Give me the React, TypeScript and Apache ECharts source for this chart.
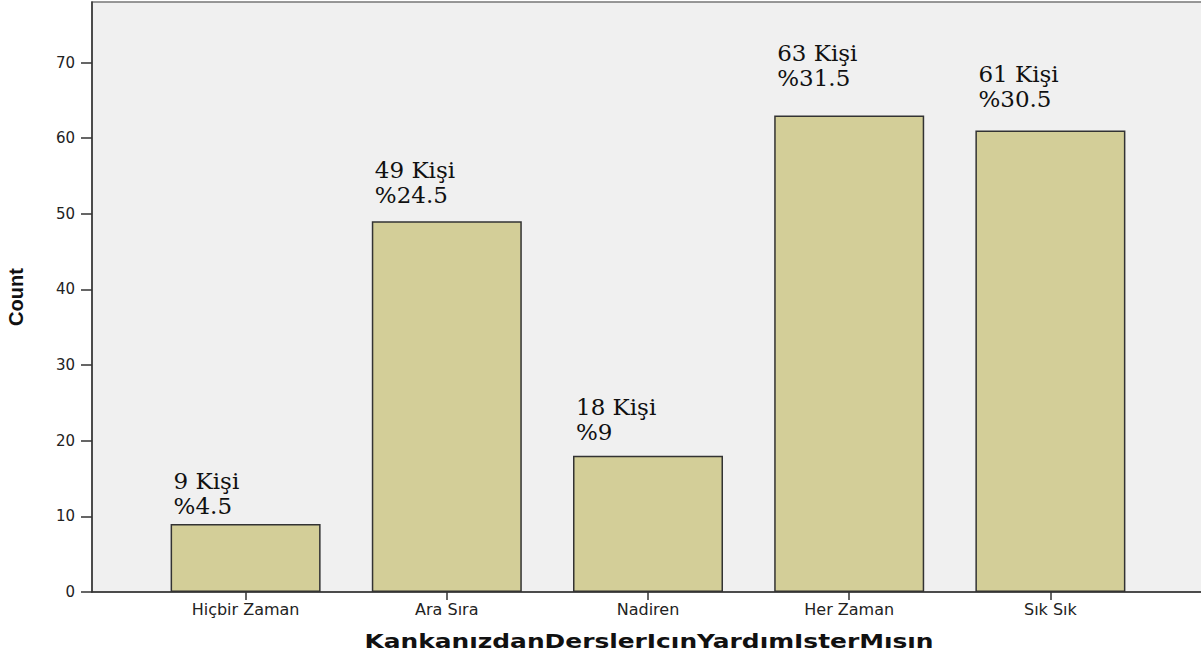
import React, { useEffect, useRef } from "react";
import * as echarts from "echarts";

const categories = ["Hiçbir Zaman", "Ara Sıra", "Nadiren", "Her Zaman", "Sık Sık"];
const counts = [9, 49, 18, 63, 61];
const percents = ["4.5", "24.5", "9", "31.5", "30.5"];
const yTicks = [0, 10, 20, 30, 40, 50, 60, 70];
const yMax = 78;
const xTitle = "KankanızdanDerslerIcınYardımIsterMısın";
const yTitle = "Count";

// vertical lift of each bar's annotation above the bar top (styling only)
const labelLift = [5, 14, 11, 25, 19];

export default function App() {
  const ref = useRef<HTMLDivElement>(null);
  useEffect(() => {
    document.body.style.margin = "0";
    if (!ref.current) return;
    const chart = echarts.init(ref.current, null, { renderer: "svg" });
    const sans = "DejaVu Sans";
    chart.setOption({
      animation: false,
      backgroundColor: "#ffffff",
      grid: [
        {
          left: 92,
          top: 2,
          width: 1112,
          height: 590,
          show: true,
          backgroundColor: "#f0f0f0",
          borderColor: "#777",
          borderWidth: 1.5,
          outerBoundsMode: "none",
          containLabel: false,
        },
        { left: 145, top: 2, width: 1006, height: 590, outerBoundsMode: "none", containLabel: false },
      ],
      graphic: [
        {
          type: "text",
          x: 649,
          y: 641,
          scaleX: 1.31,
          style: {
            text: xTitle,
            align: "center",
            verticalAlign: "middle",
            fontFamily: sans,
            fontWeight: "bold",
            fontSize: 19,
            fill: "#111",
          },
        },
      ],
      xAxis: [
        {
          gridIndex: 0,
          type: "value",
          min: 0,
          max: 1,
          axisLine: { show: true, onZero: false, lineStyle: { color: "#333", width: 1.5 } },
          axisTick: { show: false },
          axisLabel: { show: false },
          splitLine: { show: false },
        },
        {
          gridIndex: 1,
          type: "category",
          data: categories,
          axisLine: { show: false },
          axisTick: { show: true, alignWithLabel: true, length: 8, lineStyle: { color: "#333", width: 1.5 } },
          axisLabel: { fontFamily: sans, fontSize: 16, color: "#222", margin: 9 },
        },
      ],
      yAxis: [
        {
          gridIndex: 0,
          type: "value",
          min: 0,
          max: yMax,
          interval: 10,
          axisLine: { show: true, lineStyle: { color: "#333", width: 1.5 } },
          axisTick: { show: true, length: 11, customValues: yTicks, lineStyle: { color: "#333", width: 1.5 } },
          axisLabel: { fontFamily: sans, fontSize: 15, color: "#222", margin: 17, customValues: yTicks },
          splitLine: { show: false },
          name: yTitle,
          nameLocation: "middle",
          nameRotate: 90,
          nameGap: 66,
          nameTextStyle: { fontFamily: "Liberation Sans", fontWeight: "bold", fontSize: 20, color: "#111" },
        },
        {
          gridIndex: 1,
          type: "value",
          min: 0,
          max: yMax,
          show: false,
          splitLine: { show: false },
        },
      ],
      series: [
        {
          type: "bar",
          xAxisIndex: 1,
          yAxisIndex: 1,
          data: counts.map((v, i) => ({
            value: v,
            label: { position: [3, -labelLift[i]] },
          })),
          barWidth: 150,
          itemStyle: { color: "#d3ce98", borderColor: "#333", borderWidth: 1.5 },
          label: {
            show: true,
            align: "left",
            verticalAlign: "bottom",
            fontFamily: "DejaVu Serif",
            fontSize: 23,
            lineHeight: 25,
            color: "#111",
            formatter: (p: any) => `${counts[p.dataIndex]} Kişi\n%${percents[p.dataIndex]}`,
          },
        },
      ],
    });
    return () => chart.dispose();
  }, []);
  return <div ref={ref} style={{ width: 1201, height: 657 }} />;
}
